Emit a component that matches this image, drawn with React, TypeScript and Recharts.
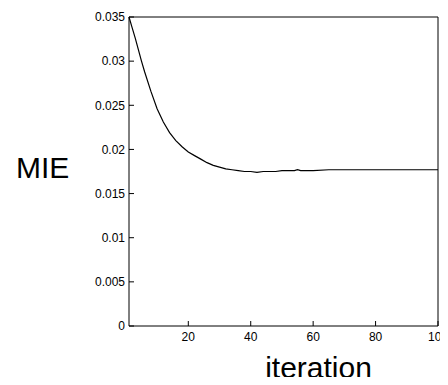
import React from 'react';
import { LineChart, Line, XAxis, YAxis } from 'recharts';

// iteration numbers and the MIE value
const iterations = [1, 2, 3, 4, 5, 6, 8, 10, 12, 14, 16, 18, 20, 22, 24, 26, 28, 30, 32, 34, 36, 38, 40, 42, 44, 46, 48, 50, 52, 54, 55, 56, 58, 60, 65, 70, 75, 80, 85, 90, 95, 100];
const mieValues = [
  0.035, 0.0338, 0.0326, 0.0313, 0.03, 0.0288, 0.0266, 0.0246, 0.0231, 0.0219, 0.021, 0.0203, 0.0197,
  0.0193, 0.0189, 0.0185, 0.0182, 0.018, 0.0178, 0.0177, 0.0176, 0.0175, 0.0175, 0.0174, 0.0175,
  0.0175, 0.0175, 0.0176, 0.0176, 0.0176, 0.0177, 0.0176, 0.0176, 0.0176, 0.0177, 0.0177, 0.0177,
  0.0177, 0.0177, 0.0177, 0.0177, 0.0177,
];
const xTicks = [20, 40, 60, 80, 100];
const yTicks = [0, 0.005, 0.01, 0.015, 0.02, 0.025, 0.03, 0.035];

const font = '"Liberation Sans", Arial, sans-serif';

const data = iterations.map((it, i) => ({ iteration: it, mie: mieValues[i] }));

const tickStyle = { fontSize: 12, fill: '#000', fontFamily: font };

const App = () => {
  return (
    <div style={{ margin: -8, width: 448, height: 385, background: '#fff' }}>
      <LineChart width={448} height={385} data={data} margin={{ top: 17, right: 10, bottom: 0, left: 0 }}>
        <XAxis
          xAxisId="b"
          dataKey="iteration"
          type="number"
          domain={[1, 100]}
          ticks={xTicks}
          height={59}
          stroke="#000"
          tickSize={-5}
          tickMargin={11}
          tick={tickStyle}
          label={{
            content: (props: any) => {
              const vb = props.viewBox;
              return (
                <text x={vb.x + vb.width / 2 + 35} y={vb.y + 52} textAnchor="middle" fontSize={30} fontFamily={font} fill="#000">
                  iteration
                </text>
              );
            },
          }}
        />
        <XAxis
          xAxisId="t"
          orientation="top"
          mirror
          dataKey="iteration"
          type="number"
          domain={[1, 100]}
          ticks={xTicks}
          height={20}
          stroke="#000"
          tickSize={5}
          tick={false}
        />
        <YAxis
          yAxisId="l"
          type="number"
          domain={[0, 0.035]}
          ticks={yTicks}
          width={129}
          stroke="#000"
          tickSize={-5}
          tickMargin={9}
          tick={tickStyle}
          label={{
            content: (props: any) => {
              const vb = props.viewBox;
              return (
                <text x={vb.x + 16} y={vb.y + 161} textAnchor="start" fontSize={30} fontFamily={font} fill="#000">
                  MIE
                </text>
              );
            },
          }}
        />
        <YAxis
          yAxisId="r"
          orientation="right"
          mirror
          type="number"
          domain={[0, 0.035]}
          ticks={yTicks}
          width={20}
          stroke="#000"
          tickSize={5}
          tick={false}
        />
        <Line
          xAxisId="b"
          yAxisId="l"
          type="linear"
          dataKey="mie"
          stroke="#000"
          strokeWidth={1.2}
          dot={false}
          isAnimationActive={false}
        />
      </LineChart>
    </div>
  );
};

export default App;
